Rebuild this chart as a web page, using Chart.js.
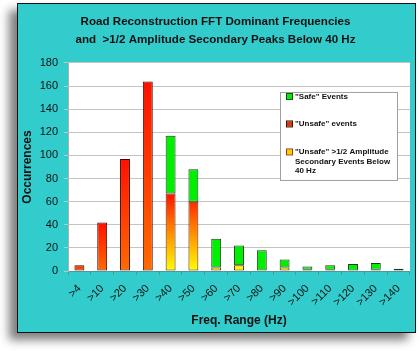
<!DOCTYPE html>
<html>
<head>
<meta charset="utf-8">
<script src="https://cdn.jsdelivr.net/npm/chart.js@4.4.0/dist/chart.umd.min.js"></script>
<style>
  html, body { margin: 0; padding: 0; background: #fff; }
  body { width: 420px; height: 351px; position: relative; overflow: hidden; }
  #panel {
    position: absolute; left: 17px; top: 3px; width: 397px; height: 328px;
    background: #33cccc; border: 1px solid #111;
    box-shadow: -8px 7px 9px rgba(0, 0, 0, 0.5);
  }
  #panel canvas { display: block; }
</style>
</head>
<body>
<div id="panel"><canvas id="chart" width="397" height="328"></canvas></div>
<script>
// Datos
const categories = ['>4', '>10', '>20', '>30', '>40', '>50', '>60', '>70', '>80', '>90', '>100', '>110', '>120', '>130', '>140'];
const secondaryEvents = [0, 0, 0, 0, 67, 60, 3, 5, 0, 3, 1, 1, 0, 1, 0];
const unsafeEvents = [5, 42, 97, 164, 0, 0, 0, 0, 0, 0, 0, 0, 0, 0, 0];
const safeEvents = [0, 0, 0, 0, 50, 28, 25, 17, 18, 7, 3, 4, 6, 6, 2];
const yTicks = [0, 20, 40, 60, 80, 100, 120, 140, 160, 180];

const titleLines = ['Road Reconstruction FFT Dominant Frequencies', 'and  >1/2 Amplitude Secondary Peaks Below 40 Hz'];
const legendItems = [
    { lines: ['"Safe" Events'], fill: '#00ee00', stroke: '#1a4a1a' },
    { lines: ['"Unsafe" events'], fill: '#d83a10', stroke: '#4a1000' },
    { lines: ['"Unsafe" >1/2 Amplitude', 'Secondary Events Below', '40 Hz'], fill: '#ffcc00', stroke: '#a04000' }
];

const FONT = "'Liberation Sans', Arial, sans-serif";

// Gradiente rojo -> naranja por barra (eventos "unsafe")
function unsafeFill(c) {
    const chart = c.chart;
    if (!chart.chartArea || c.type !== 'data') return '#ff4000';
    const y = chart.scales.y;
    const top = y.getPixelForValue(secondaryEvents[c.dataIndex] + c.raw);
    const bot = y.getPixelForValue(secondaryEvents[c.dataIndex]);
    if (!(bot > top)) return '#ff4000';
    const g = chart.ctx.createLinearGradient(0, top, 0, bot);
    g.addColorStop(0, '#ff1000');
    g.addColorStop(1, '#ff6a00');
    return g;
}

// Gradiente rojo -> amarillo fijo en la escala (eventos secundarios)
function secondaryFill(c) {
    const chart = c.chart;
    if (!chart.chartArea) return '#ffcc00';
    const y = chart.scales.y;
    const g = chart.ctx.createLinearGradient(0, y.getPixelForValue(67), 0, y.getPixelForValue(0));
    g.addColorStop(0, '#ff1000');
    g.addColorStop(0.45, '#ff8000');
    g.addColorStop(1, '#ffff00');
    return g;
}

// Fondo blanco del area de trazado
const plotBg = {
    id: 'plotBg',
    beforeDraw(chart) {
        const a = chart.chartArea;
        chart.ctx.save();
        chart.ctx.fillStyle = '#ffffff';
        chart.ctx.fillRect(a.left, a.top, a.right - a.left, a.bottom - a.top);
        chart.ctx.restore();
    }
};

// Leyenda en recuadro dentro del grafico
const boxLegend = {
    id: 'boxLegend',
    afterDatasetsDraw(chart) {
        const ctx = chart.ctx;
        const a = chart.chartArea;
        const x = a.left + 212, y = a.top + 29, w = 117, h = 88;
        ctx.save();
        ctx.fillStyle = '#ffffff';
        ctx.fillRect(x, y, w, h);
        ctx.strokeStyle = '#a0a0a0';
        ctx.lineWidth = 1;
        ctx.strokeRect(x + 0.5, y + 0.5, w, h);
        ctx.font = 'bold 8px ' + FONT;
        ctx.textBaseline = 'middle';
        const starts = [4.5, 32, 60];
        legendItems.forEach(function(item, i) {
            const cy = y + starts[i];
            ctx.fillStyle = item.fill;
            ctx.fillRect(x + 7, cy - 2.5, 5, 5);
            ctx.strokeStyle = item.stroke;
            ctx.strokeRect(x + 6.5, cy - 3, 6, 6);
            ctx.fillStyle = '#111';
            item.lines.forEach(function(line, j) {
                ctx.fillText(line, x + 15, cy + j * 9.5);
            });
        });
        ctx.restore();
    }
};

const ctx = document.getElementById('chart').getContext('2d');
const chart = new Chart(ctx, {
    type: 'bar',
    data: {
        labels: categories,
        datasets: [
            {
                label: legendItems[2].lines.join(' '),
                data: secondaryEvents,
                backgroundColor: secondaryFill,
                borderColor: '#5a2400',
                borderWidth: 1,
                borderSkipped: false
            },
            {
                label: legendItems[1].lines[0],
                data: unsafeEvents,
                backgroundColor: unsafeFill,
                borderColor: '#3a0800',
                borderWidth: 1,
                borderSkipped: false
            },
            {
                label: legendItems[0].lines[0],
                data: safeEvents,
                backgroundColor: '#00ee00',
                borderColor: '#1a3a1a',
                borderWidth: 1,
                borderSkipped: false
            }
        ]
    },
    options: {
        responsive: false,
        animation: false,
        datasets: {
            bar: { categoryPercentage: 0.87, barPercentage: 0.5 }
        },
        layout: { padding: { left: 0, right: 2, top: 0, bottom: 0 } },
        plugins: {
            legend: { display: false },
            tooltip: { enabled: false },
            title: {
                display: true,
                text: titleLines,
                color: '#111',
                font: { family: FONT, size: 11.6, weight: 'bold', lineHeight: 1.55 },
                padding: { top: 9, bottom: 14 }
            }
        },
        scales: {
            x: {
                stacked: true,
                grid: { drawOnChartArea: false, drawTicks: true, tickLength: 4, color: '#4a9a9a', offset: true },
                border: { display: true, color: '#4a9a9a' },
                ticks: {
                    color: '#111',
                    font: { family: FONT, size: 11 },
                    minRotation: 45,
                    maxRotation: 45,
                    padding: 7
                },
                title: {
                    display: true,
                    text: 'Freq. Range (Hz)',
                    color: '#111',
                    font: { family: FONT, size: 12, weight: 'bold' },
                    padding: { top: 0, bottom: 4 }
                },
                afterFit: function(scale) { scale.height = 61; }
            },
            y: {
                stacked: true,
                min: 0,
                max: 180,
                afterBuildTicks: function(scale) {
                    scale.ticks = yTicks.map(function(v) { return { value: v }; });
                },
                grid: { color: '#c4c4c4', drawTicks: true, tickLength: 4 },
                border: { display: true, color: '#b0b0b0' },
                ticks: {
                    color: '#111',
                    font: { family: FONT, size: 11 },
                    padding: 6
                },
                title: {
                    display: true,
                    text: 'Occurrences',
                    color: '#111',
                    font: { family: FONT, size: 12, weight: 'bold' },
                    padding: { top: 2, bottom: 0 }
                },
                afterFit: function(scale) { scale.width = 50; }
            }
        }
    },
    plugins: [plotBg, boxLegend]
});
</script>
</body>
</html>
